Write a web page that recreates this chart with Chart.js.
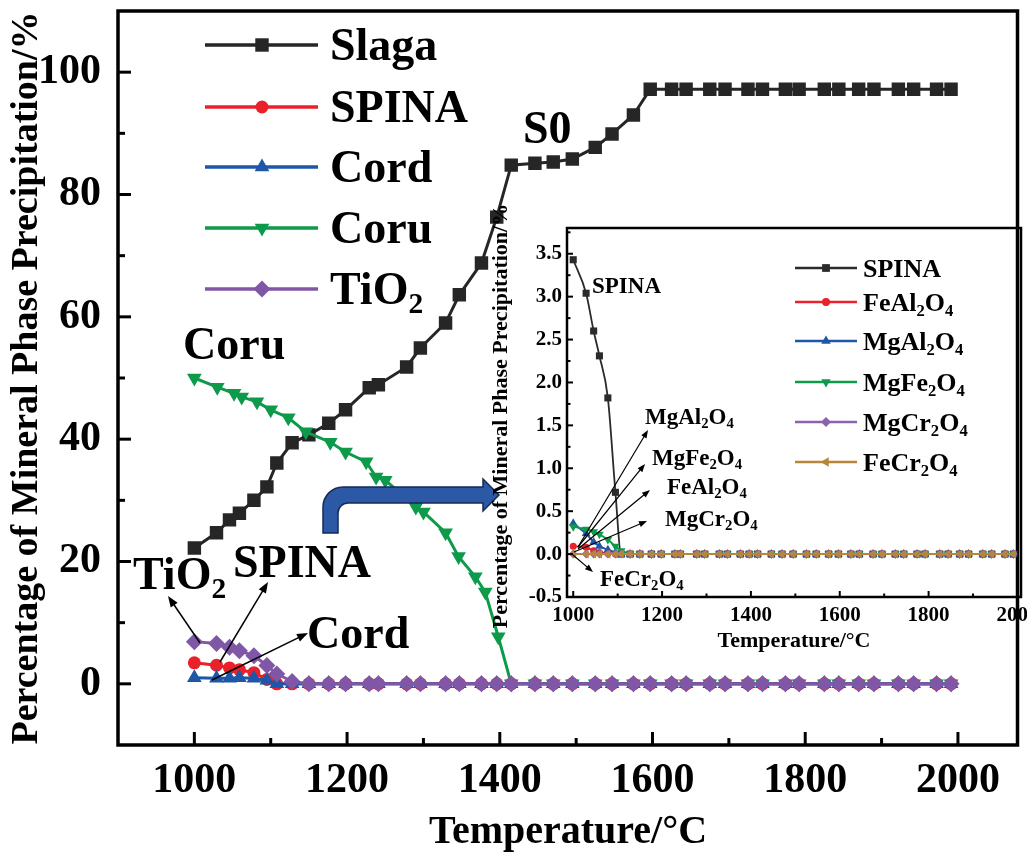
<!DOCTYPE html>
<html>
<head>
<meta charset="utf-8">
<script src="https://cdn.jsdelivr.net/npm/chart.js@4.4.1/dist/chart.umd.min.js"></script>
<style>
  html, body { margin: 0; padding: 0; background: #fff; }
  #wrap { position: relative; width: 1027px; height: 853px; overflow: hidden; }
  #main { position: absolute; left: 0; top: 0; }
  #inset { position: absolute; left: 480px; top: 200px; }
</style>
</head>
<body>
<div id="wrap">
  <canvas id="main" width="1027" height="853"></canvas>
  <canvas id="inset" width="547" height="460"></canvas>
</div>
<script>
const SERIF = '"Liberation Serif", "Times New Roman", serif';

// Calculation temperatures (°C) shared by most phases
const temps = [
  1000, 1029, 1046, 1059, 1078, 1095, 1108, 1128, 1150, 1176,
  1198, 1229, 1241, 1278, 1296, 1329, 1347, 1376, 1396, 1415,
  1446, 1470, 1495, 1525, 1547, 1575, 1597, 1625, 1644, 1675,
  1695, 1725, 1744, 1774, 1792, 1825, 1844, 1870, 1890, 1922,
  1942, 1972, 1991
];

// Main phases, % precipitated
const slagaValues = [
  22.2, 24.7, 26.8, 27.9, 30.0, 32.2, 36.1, 39.4, 40.7, 42.6,
  44.8, 48.4, 48.9, 51.8, 54.9, 59.0, 63.6, 68.8, 76.3, 84.8,
  85.1, 85.3, 85.8, 87.7, 89.9, 93.0, 97.2, 97.2, 97.2, 97.2,
  97.2, 97.2, 97.2, 97.2, 97.2, 97.2, 97.2, 97.2, 97.2, 97.2,
  97.2, 97.2, 97.2
];
const spinaValues = [
  3.43, 3.04, 2.60, 2.31, 1.82, 0.72, 0, 0, 0, 0,
  0, 0, 0, 0, 0, 0, 0, 0, 0, 0,
  0, 0, 0, 0, 0, 0, 0, 0, 0, 0,
  0, 0, 0, 0, 0, 0, 0, 0, 0, 0,
  0, 0, 0
];
const cordValues = [
  1.0, 0.9, 0.9, 1.0, 0.9, 0.6, 0, 0, 0, 0,
  0, 0, 0, 0, 0, 0, 0, 0, 0, 0,
  0, 0, 0, 0, 0, 0, 0, 0, 0, 0,
  0, 0, 0, 0, 0, 0, 0, 0, 0, 0,
  0, 0, 0
];
const tio2Values = [
  6.9, 6.6, 6.0, 5.4, 4.6, 3.0, 1.6, 0.4, 0, 0,
  0, 0, 0, 0, 0, 0, 0, 0, 0, 0,
  0, 0, 0, 0, 0, 0, 0, 0, 0, 0,
  0, 0, 0, 0, 0, 0, 0, 0, 0, 0,
  0, 0, 0
];

// Corundum has its own temperature steps
const coruTemps = [
  1000, 1030, 1052, 1062, 1082, 1100, 1123, 1146, 1178, 1198,
  1225, 1238, 1250, 1290, 1300, 1329, 1346, 1368, 1381, 1398,
  1415, 1446, 1470, 1495, 1525, 1547, 1575, 1597, 1625, 1644,
  1675, 1695, 1725, 1744, 1774, 1792, 1825, 1844, 1870, 1890,
  1922, 1942, 1972, 1991
];
const coruValues = [
  50.0, 48.5, 47.5, 46.9, 46.1, 44.8, 43.5, 41.2, 39.5, 37.9,
  36.3, 33.8, 33.3, 28.9, 28.1, 24.7, 20.8, 17.5, 15.0, 7.7,
  0, 0, 0, 0, 0, 0, 0, 0, 0, 0,
  0, 0, 0, 0, 0, 0, 0, 0, 0, 0,
  0, 0, 0, 0
];

// Spinel sub-phases (inset), %
const insetSpina = [
  3.43, 3.04, 2.60, 2.31, 1.82, 0.72, 0, 0, 0, 0,
  0, 0, 0, 0, 0, 0, 0, 0, 0, 0,
  0, 0, 0, 0, 0, 0, 0, 0, 0, 0,
  0, 0, 0, 0, 0, 0, 0, 0, 0, 0,
  0, 0, 0
];
const insetFeAl2O4 = [
  0.09, 0.08, 0.04, 0.02, 0.01, 0, 0, 0, 0, 0,
  0, 0, 0, 0, 0, 0, 0, 0, 0, 0,
  0, 0, 0, 0, 0, 0, 0, 0, 0, 0,
  0, 0, 0, 0, 0, 0, 0, 0, 0, 0,
  0, 0, 0
];
const insetMgAl2O4 = [
  0.36, 0.24, 0.14, 0.09, 0.05, 0.02, 0, 0, 0, 0,
  0, 0, 0, 0, 0, 0, 0, 0, 0, 0,
  0, 0, 0, 0, 0, 0, 0, 0, 0, 0,
  0, 0, 0, 0, 0, 0, 0, 0, 0, 0,
  0, 0, 0
];
const insetMgFe2O4 = [
  0.32, 0.29, 0.26, 0.23, 0.17, 0.09, 0.04, 0, 0, 0,
  0, 0, 0, 0, 0, 0, 0, 0, 0, 0,
  0, 0, 0, 0, 0, 0, 0, 0, 0, 0,
  0, 0, 0, 0, 0, 0, 0, 0, 0, 0,
  0, 0, 0
];
const insetMgCr2O4 = [
  0, 0, 0, 0, 0, 0, 0, 0, 0, 0,
  0, 0, 0, 0, 0, 0, 0, 0, 0, 0,
  0, 0, 0, 0, 0, 0, 0, 0, 0, 0,
  0, 0, 0, 0, 0, 0, 0, 0, 0, 0,
  0, 0, 0
];
const insetFeCr2O4 = [
  0, 0, 0, 0, 0, 0, 0, 0, 0, 0,
  0, 0, 0, 0, 0, 0, 0, 0, 0, 0,
  0, 0, 0, 0, 0, 0, 0, 0, 0, 0,
  0, 0, 0, 0, 0, 0, 0, 0, 0, 0,
  0, 0, 0
];

// Axis ticks
const mainXTicks = [1000, 1200, 1400, 1600, 1800, 2000];
const mainXMinor = [1100, 1300, 1500, 1700, 1900];
const mainYTicks = [0, 20, 40, 60, 80, 100];
const mainYMinor = [10, 30, 50, 70, 90];
const insetXTicks = [1000, 1200, 1400, 1600, 1800, 2000];
const insetXMinor = [1100, 1300, 1500, 1700, 1900];
const insetYTicks = [-0.5, 0, 0.5, 1.0, 1.5, 2.0, 2.5, 3.0, 3.5];
const insetYMinor = [-0.25, 0.25, 0.75, 1.25, 1.75, 2.25, 2.75, 3.25, 3.75];

const pts = (xs, ys) => xs.map((x, i) => ({ x: x, y: ys[i] }));

// ---------- drawing helpers ----------
function segmentsOf(s) {
  const out = []; let buf = '';
  for (let i = 0; i < s.length; i++) {
    if (s[i] === '_') {
      if (buf) { out.push({ t: buf, sub: false }); buf = ''; }
      out.push({ t: s[i + 1], sub: true }); i++;
    } else buf += s[i];
  }
  if (buf) out.push({ t: buf, sub: false });
  return out;
}
function drawRich(ctx, s, x, cy, size, align) {
  const segs = segmentsOf(s);
  const subSize = size * 0.64;
  let w = 0;
  segs.forEach(g => {
    ctx.font = 'bold ' + (g.sub ? subSize : size) + 'px ' + SERIF;
    g.w = ctx.measureText(g.t).width; w += g.w;
  });
  let cx = align === 'center' ? x - w / 2 : (align === 'right' ? x - w : x);
  const base = cy + size * 0.33;
  ctx.textAlign = 'left'; ctx.textBaseline = 'alphabetic'; ctx.fillStyle = '#000';
  segs.forEach(g => {
    ctx.font = 'bold ' + (g.sub ? subSize : size) + 'px ' + SERIF;
    ctx.fillText(g.t, cx, g.sub ? base + size * 0.2 : base);
    cx += g.w;
  });
}
function drawMarker(ctx, style, x, y, r, rot, color) {
  ctx.save(); ctx.fillStyle = color; ctx.beginPath();
  if (style === 'rect') {
    const s = Math.SQRT1_2 * r; ctx.rect(x - s, y - s, 2 * s, 2 * s);
  } else if (style === 'circle') {
    ctx.arc(x, y, r, 0, Math.PI * 2);
  } else if (style === 'triangle') {
    let a = (rot || 0) * Math.PI / 180;
    for (let k = 0; k < 3; k++) {
      const px = x + Math.sin(a) * r, py = y - Math.cos(a) * r;
      if (k) ctx.lineTo(px, py); else ctx.moveTo(px, py);
      a += 2 * Math.PI / 3;
    }
    ctx.closePath();
  } else if (style === 'rectRot') {
    ctx.moveTo(x - r, y); ctx.lineTo(x, y - r); ctx.lineTo(x + r, y); ctx.lineTo(x, y + r); ctx.closePath();
  }
  ctx.fill(); ctx.restore();
}
function arrow(ctx, x1, y1, x2, y2, lw, head) {
  const a = Math.atan2(y2 - y1, x2 - x1);
  const c = Math.cos(a), s = Math.sin(a);
  ctx.save(); ctx.strokeStyle = '#000'; ctx.fillStyle = '#000'; ctx.lineWidth = lw;
  ctx.beginPath(); ctx.moveTo(x1, y1); ctx.lineTo(x2 - c * head * 0.8, y2 - s * head * 0.8); ctx.stroke();
  ctx.beginPath(); ctx.moveTo(x2, y2);
  ctx.lineTo(x2 - head * c + head * 0.38 * s, y2 - head * s - head * 0.38 * c);
  ctx.lineTo(x2 - head * c - head * 0.38 * s, y2 - head * s + head * 0.38 * c);
  ctx.closePath(); ctx.fill(); ctx.restore();
}
function frameAndTicks(chart, o) {
  const { ctx, chartArea: a, scales: { x, y } } = chart;
  ctx.save(); ctx.strokeStyle = '#000'; ctx.lineCap = 'butt';
  ctx.lineWidth = o.tickWidth;
  const seg = (x1, y1, x2, y2) => { ctx.beginPath(); ctx.moveTo(x1, y1); ctx.lineTo(x2, y2); ctx.stroke(); };
  o.xMajor.forEach(v => { const p = x.getPixelForValue(v); seg(p, a.bottom, p, a.bottom - o.major); });
  o.xMinor.forEach(v => { const p = x.getPixelForValue(v); seg(p, a.bottom, p, a.bottom - o.minor); });
  o.yMajor.forEach(v => { const p = y.getPixelForValue(v); seg(a.left, p, a.left + o.major, p); });
  o.yMinor.forEach(v => { if (v < y.max && v > y.min) { const p = y.getPixelForValue(v); seg(a.left, p, a.left + o.minor, p); } });
  ctx.lineWidth = o.frameWidth;
  ctx.strokeRect(a.left, a.top, a.right - a.left, a.bottom - a.top);
  ctx.restore();
}
function verticalTitle(ctx, text, cx, cy, size) {
  ctx.save(); ctx.translate(cx, cy); ctx.rotate(-Math.PI / 2);
  drawRich(ctx, text, 0, 0, size, 'center'); ctx.restore();
}
// keep the plot box exactly where the layout padding puts it
function noEdgePadding(s) { s.paddingTop = 0; s.paddingBottom = 0; s.paddingLeft = 0; s.paddingRight = 0; }

// ---------- main chart ----------
const mainDecor = {
  id: 'mainDecor',
  afterDraw(chart) {
    const ctx = chart.ctx;
    frameAndTicks(chart, { xMajor: mainXTicks, xMinor: mainXMinor, yMajor: mainYTicks, yMinor: mainYMinor,
      major: 13, minor: 7, tickWidth: 3, frameWidth: 3.5 });

    // axis titles
    drawRich(ctx, 'Temperature/°C', 568, 830, 40, 'center');
    verticalTitle(ctx, 'Percentage of Mineral Phase Precipitation/%', 24, 378, 38);

    // legend
    const rows = [45, 107, 167, 228, 289];
    chart.data.datasets.forEach((ds, i) => {
      const yy = rows[i];
      ctx.save(); ctx.strokeStyle = ds.borderColor; ctx.lineWidth = 3.5;
      ctx.beginPath(); ctx.moveTo(205, yy); ctx.lineTo(318, yy); ctx.stroke(); ctx.restore();
      drawMarker(ctx, ds.pointStyle, 262, yy, ds.pointRadius, ds.pointRotation, ds.borderColor);
      drawRich(ctx, ds.legendText, 330, yy, 46, 'left');
    });

    // phase labels and pointers
    drawRich(ctx, 'S0', 523, 128, 46, 'left');
    drawRich(ctx, 'Coru', 183, 344, 46, 'left');
    drawRich(ctx, 'SPINA', 233, 562, 46, 'left');
    drawRich(ctx, 'TiO_2', 133, 574, 46, 'left');
    drawRich(ctx, 'Cord', 307, 633, 46, 'left');
    arrow(ctx, 200, 643, 168, 596, 1.5, 11);
    arrow(ctx, 220, 662, 268, 582, 1.5, 11);
    arrow(ctx, 212, 680, 308, 633, 1.5, 11);

    // bent arrow pointing to the inset
    ctx.save();
    ctx.beginPath();
    ctx.moveTo(323, 533);
    ctx.lineTo(323, 507);
    ctx.arcTo(323, 487, 343, 487, 20);
    ctx.lineTo(483, 487);
    ctx.lineTo(483, 479);
    ctx.lineTo(499, 495);
    ctx.lineTo(483, 511);
    ctx.lineTo(483, 503);
    ctx.lineTo(348, 503);
    ctx.arcTo(338, 503, 338, 513, 10);
    ctx.lineTo(338, 533);
    ctx.closePath();
    ctx.fillStyle = '#2b59a6'; ctx.fill();
    ctx.strokeStyle = '#17295a'; ctx.lineWidth = 1.5; ctx.stroke();
    ctx.restore();
  }
};

const tickFontMain = { family: SERIF, size: 42, weight: 'bold' };

new Chart(document.getElementById('main'), {
  type: 'line',
  data: {
    datasets: [
      { label: 'Slaga', legendText: 'Slaga', data: pts(temps, slagaValues),
        borderColor: '#262626', backgroundColor: '#262626', borderWidth: 3,
        pointStyle: 'rect', pointRadius: 9.5, pointRotation: 0, pointBorderWidth: 0, order: 4 },
      { label: 'SPINA', legendText: 'SPINA', data: pts(temps, spinaValues),
        borderColor: '#e8212b', backgroundColor: '#e8212b', borderWidth: 3,
        pointStyle: 'circle', pointRadius: 6.5, pointRotation: 0, pointBorderWidth: 0, order: 2 },
      { label: 'Cord', legendText: 'Cord', data: pts(temps, cordValues),
        borderColor: '#1f57a8', backgroundColor: '#1f57a8', borderWidth: 3,
        pointStyle: 'triangle', pointRadius: 8.5, pointRotation: 0, pointBorderWidth: 0, order: 1 },
      { label: 'Coru', legendText: 'Coru', data: pts(coruTemps, coruValues),
        borderColor: '#0d9a4b', backgroundColor: '#0d9a4b', borderWidth: 3,
        pointStyle: 'triangle', pointRadius: 8.5, pointRotation: 180, pointBorderWidth: 0, order: 3 },
      { label: 'TiO2', legendText: 'TiO_2', data: pts(temps, tio2Values),
        borderColor: '#8057a6', backgroundColor: '#8057a6', borderWidth: 3,
        pointStyle: 'rectRot', pointRadius: 8.5, pointRotation: 0, pointBorderWidth: 0, order: 0 }
    ]
  },
  options: {
    responsive: false, animation: false, devicePixelRatio: 1, events: [],
    layout: { padding: { left: 0, right: 6, top: 11, bottom: 0 } },
    plugins: { legend: { display: false }, tooltip: { enabled: false } },
    scales: {
      x: {
        type: 'linear', min: 900, max: 2078,
        grid: { display: false, drawTicks: false }, border: { display: false },
        afterBuildTicks: s => { s.ticks = mainXTicks.map(v => ({ value: v })); },
        afterFit: s => { s.height = 108; noEdgePadding(s); },
        ticks: { font: tickFontMain, color: '#000', padding: 11, maxRotation: 0, autoSkip: false,
                 callback: v => String(v) }
      },
      y: {
        type: 'linear', min: -10, max: 110,
        grid: { display: false, drawTicks: false }, border: { display: false },
        afterBuildTicks: s => { s.ticks = mainYTicks.map(v => ({ value: v })); },
        afterFit: s => { s.width = 118; noEdgePadding(s); },
        ticks: { font: tickFontMain, color: '#000', padding: 17, autoSkip: false,
                 callback: v => String(v) }
      }
    }
  },
  plugins: [mainDecor]
});

// ---------- inset chart ----------
const insetDecor = {
  id: 'insetDecor',
  afterDraw(chart) {
    const ctx = chart.ctx;
    frameAndTicks(chart, { xMajor: insetXTicks, xMinor: insetXMinor, yMajor: insetYTicks, yMinor: insetYMinor,
      major: 6, minor: 3.5, tickWidth: 2, frameWidth: 2.5 });

    drawRich(ctx, 'Temperature/°C', 314, 440, 22, 'center');
    verticalTitle(ctx, 'Percentage of Mineral Phase Precipitation/%', 20, 216, 22);

    // legend
    const rows = [68, 102, 141, 182, 222, 262];
    chart.data.datasets.forEach((ds, i) => {
      const yy = rows[i];
      ctx.save(); ctx.strokeStyle = ds.borderColor; ctx.lineWidth = 2.5;
      ctx.beginPath(); ctx.moveTo(315, yy); ctx.lineTo(377, yy); ctx.stroke(); ctx.restore();
      drawMarker(ctx, ds.pointStyle, 346, yy, ds.pointRadius + 0.5, ds.pointRotation, ds.borderColor);
      drawRich(ctx, ds.legendText, 383, yy, 26, 'left');
    });

    // phase labels and pointers
    drawRich(ctx, 'SPINA', 112, 85, 23, 'left');
    drawRich(ctx, 'MgAl_2O_4', 165, 216, 23, 'left');
    drawRich(ctx, 'MgFe_2O_4', 172, 257, 23, 'left');
    drawRich(ctx, 'FeAl_2O_4', 187, 286, 23, 'left');
    drawRich(ctx, 'MgCr_2O_4', 185, 318, 23, 'left');
    drawRich(ctx, 'FeCr_2O_4', 120, 378, 23, 'left');
    arrow(ctx, 98, 347, 168, 230, 1.2, 8);
    arrow(ctx, 98, 347, 165, 264, 1.2, 8);
    arrow(ctx, 98, 349, 170, 290, 1.2, 8);
    arrow(ctx, 94, 352, 167, 321, 1.2, 8);
    arrow(ctx, 93, 355, 113, 372, 1.2, 8);
  }
};

const tickFontInset = { family: SERIF, size: 21, weight: 'bold' };

new Chart(document.getElementById('inset'), {
  type: 'line',
  data: {
    datasets: [
      { label: 'SPINA', legendText: 'SPINA', data: pts(temps, insetSpina),
        borderColor: '#2b2b2b', backgroundColor: '#2b2b2b', borderWidth: 1.8,
        cubicInterpolationMode: 'monotone', tension: 0.4,
        pointStyle: 'rect', pointRadius: 5, pointRotation: 0, pointBorderWidth: 0, order: 5 },
      { label: 'FeAl2O4', legendText: 'FeAl_2O_4', data: pts(temps, insetFeAl2O4),
        borderColor: '#e8212b', backgroundColor: '#e8212b', borderWidth: 2,
        pointStyle: 'circle', pointRadius: 3.5, pointRotation: 0, pointBorderWidth: 0, order: 4 },
      { label: 'MgAl2O4', legendText: 'MgAl_2O_4', data: pts(temps, insetMgAl2O4),
        borderColor: '#1f57a8', backgroundColor: '#1f57a8', borderWidth: 2,
        pointStyle: 'triangle', pointRadius: 5, pointRotation: 0, pointBorderWidth: 0, order: 3 },
      { label: 'MgFe2O4', legendText: 'MgFe_2O_4', data: pts(temps, insetMgFe2O4),
        borderColor: '#0d9a4b', backgroundColor: '#0d9a4b', borderWidth: 2,
        pointStyle: 'triangle', pointRadius: 5, pointRotation: 180, pointBorderWidth: 0, order: 2 },
      { label: 'MgCr2O4', legendText: 'MgCr_2O_4', data: pts(temps, insetMgCr2O4),
        borderColor: '#8a62b0', backgroundColor: '#8a62b0', borderWidth: 2,
        pointStyle: 'rectRot', pointRadius: 4.5, pointRotation: 0, pointBorderWidth: 0, order: 1 },
      { label: 'FeCr2O4', legendText: 'FeCr_2O_4', data: pts(temps, insetFeCr2O4),
        borderColor: '#b8863b', backgroundColor: '#b8863b', borderWidth: 2,
        pointStyle: 'triangle', pointRadius: 5, pointRotation: 270, pointBorderWidth: 0, order: 0 }
    ]
  },
  options: {
    responsive: false, animation: false, devicePixelRatio: 1, events: [],
    layout: { padding: { left: 0, right: 6, top: 28, bottom: 0 } },
    plugins: { legend: { display: false }, tooltip: { enabled: false } },
    scales: {
      x: {
        type: 'linear', min: 986, max: 2008,
        grid: { display: false, drawTicks: false }, border: { display: false },
        afterBuildTicks: s => { s.ticks = insetXTicks.map(v => ({ value: v })); },
        afterFit: s => { s.height = 63; noEdgePadding(s); },
        ticks: { font: tickFontInset, color: '#000', padding: 6, maxRotation: 0, autoSkip: false,
                 callback: v => String(v) }
      },
      y: {
        type: 'linear', min: -0.5, max: 3.8,
        grid: { display: false, drawTicks: false }, border: { display: false },
        afterBuildTicks: s => { s.ticks = insetYTicks.map(v => ({ value: v })); },
        afterFit: s => { s.width = 87; noEdgePadding(s); },
        ticks: { font: tickFontInset, color: '#000', padding: 5, autoSkip: false,
                 callback: v => Number(v).toFixed(1) }
      }
    }
  },
  plugins: [insetDecor]
});
</script>
</body>
</html>
